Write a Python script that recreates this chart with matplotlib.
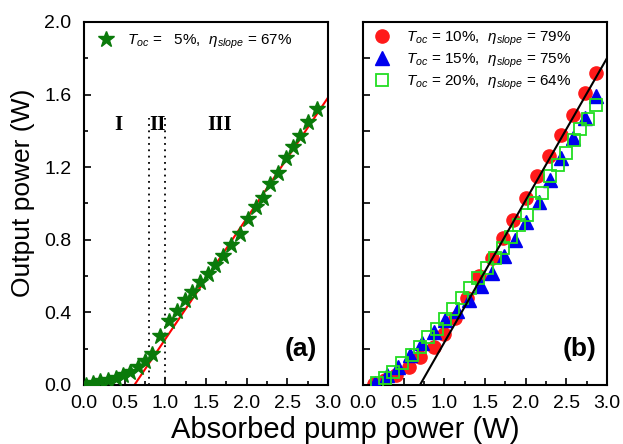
import matplotlib
matplotlib.use('Agg')
import matplotlib.pyplot as plt
import numpy as np
from matplotlib.ticker import MultipleLocator

plt.rcParams['font.family'] = ['Liberation Sans', 'DejaVu Sans']
plt.rcParams['mathtext.fontset'] = 'custom'
plt.rcParams['mathtext.rm'] = 'Liberation Sans'
plt.rcParams['mathtext.it'] = 'Liberation Sans:italic'

# panel (a): Toc = 5%
pump_a = [0.02, 0.11, 0.2, 0.3, 0.39, 0.48, 0.57, 0.66, 0.75, 0.84, 0.94, 1.04, 1.14, 1.24, 1.33, 1.43,
          1.52, 1.61, 1.71, 1.81, 1.92, 2.02, 2.12, 2.2, 2.29, 2.39, 2.48, 2.57, 2.66, 2.75, 2.86]
out_a = [0.0, 0.01, 0.02, 0.03, 0.04, 0.055, 0.07, 0.10, 0.13, 0.17, 0.27, 0.35, 0.41, 0.47, 0.51, 0.57,
         0.61, 0.66, 0.71, 0.77, 0.83, 0.915, 0.98, 1.03, 1.11, 1.17, 1.25, 1.31, 1.37, 1.45, 1.52]
fit_a_x = [0.62, 3.1]
fit_a_y = [0.0, 1.65]
region_lines = [0.8, 1.0]

# panel (b)
pump_10 = [0.13, 0.27, 0.41, 0.56, 0.70, 0.87, 1.0, 1.13, 1.28, 1.43, 1.58, 1.72, 1.85, 2.01, 2.14,
           2.29, 2.44, 2.58, 2.73, 2.86]
out_10 = [0.005, 0.03, 0.055, 0.10, 0.155, 0.21, 0.28, 0.37, 0.48, 0.60, 0.70, 0.81, 0.91, 1.03, 1.15,
          1.26, 1.38, 1.49, 1.61, 1.72]
pump_15 = [0.15, 0.29, 0.43, 0.58, 0.72, 0.87, 1.01, 1.15, 1.30, 1.45, 1.58, 1.73, 1.87, 2.01, 2.16,
           2.30, 2.44, 2.58, 2.73, 2.87]
out_15 = [0.013, 0.055, 0.10, 0.165, 0.23, 0.29, 0.36, 0.41, 0.47, 0.545, 0.615, 0.71, 0.80, 0.90, 1.01,
          1.13, 1.25, 1.36, 1.47, 1.59]
pump_20 = [0.17, 0.27, 0.37, 0.48, 0.60, 0.70, 0.80, 0.91, 1.01, 1.11, 1.22, 1.32, 1.42, 1.52, 1.62,
           1.72, 1.82, 1.92, 2.02, 2.10, 2.20, 2.30, 2.40, 2.50, 2.59, 2.67, 2.77, 2.86]
out_20 = [0.01, 0.037, 0.073, 0.12, 0.165, 0.21, 0.265, 0.31, 0.365, 0.42, 0.48, 0.535, 0.59, 0.645, 0.70,
          0.755, 0.815, 0.88, 0.935, 1.0, 1.06, 1.15, 1.21, 1.28, 1.35, 1.41, 1.465, 1.54]
fit_b_x = [0.70, 3.05]
fit_b_y = [0.0, 1.84]

fig = plt.figure(figsize=(6.23, 4.44), dpi=100)
ax1 = fig.add_axes([0.1348, 0.1329, 0.3917, 0.8176])
ax2 = fig.add_axes([0.5827, 0.1329, 0.3916, 0.8176])

green = '#0a7a0a'
ax1.plot(fit_a_x, fit_a_y, color='red', lw=1.5, zorder=2)
ax1.plot(pump_a, out_a, linestyle='none', marker='*', markersize=12, color=green,
         markeredgecolor=green, zorder=3, label=r'$T_{oc}$ =   5%,  $\eta_{slope}$ = 67%')
for xv in region_lines:
    ax1.plot([xv, xv], [0, 1.47], color='black', linestyle=(0, (1, 2.5)), lw=1.3, zorder=1)
for lab, xv in zip(['I', 'II', 'III'], [0.42, 0.9, 1.67]):
    ax1.text(xv, 1.43, lab, family='Liberation Serif', weight='bold', fontsize=15, ha='center', va='center')
ax1.text(0.955, 0.065, '(a)', transform=ax1.transAxes, weight='bold', fontsize=19, ha='right', va='bottom')
ax1.legend(loc='upper left', frameon=False, fontsize=11, handletextpad=0.6, borderaxespad=0.3,
           handlelength=1.5)

ax2.plot(fit_b_x, fit_b_y, color='black', lw=1.5, zorder=4)
ax2.plot(pump_10, out_10, linestyle='none', marker='o', markersize=9.5, color='#ff1a1a',
         label=r'$T_{oc}$ = 10%,  $\eta_{slope}$ = 79%', zorder=2)
ax2.plot(pump_15, out_15, linestyle='none', marker='^', markersize=9.5, color='#0000ee',
         markerfacecolor='#0000ee', label=r'$T_{oc}$ = 15%,  $\eta_{slope}$ = 75%', zorder=3)
ax2.plot(pump_20, out_20, linestyle='none', marker='s', markersize=8.5, color='#22dd22',
         markerfacecolor='none', markeredgewidth=1.3, label=r'$T_{oc}$ = 20%,  $\eta_{slope}$ = 64%', zorder=3)
ax2.text(0.955, 0.065, '(b)', transform=ax2.transAxes, weight='bold', fontsize=19, ha='right', va='bottom')
ax2.legend(loc='upper left', frameon=False, fontsize=11, handletextpad=0.8, borderaxespad=0.1,
           handlelength=1.5, labelspacing=0.25)

for ax in (ax1, ax2):
    ax.set_xlim(0, 3.0)
    ax.set_ylim(0, 2.0)
    ax.xaxis.set_major_locator(MultipleLocator(0.5))
    ax.xaxis.set_minor_locator(MultipleLocator(0.25))
    ax.yaxis.set_major_locator(MultipleLocator(0.4))
    ax.yaxis.set_minor_locator(MultipleLocator(0.2))
    ax.tick_params(which='both', direction='in', top=False, right=False, labelsize=14, width=1.2)
    ax.tick_params(which='major', length=5)
    ax.tick_params(which='minor', length=3)
    ax.tick_params(axis='x', pad=7)
    ax.tick_params(axis='y', pad=9)
    for sp in ax.spines.values():
        sp.set_linewidth(1.5)

ax2.tick_params(axis='y', which='both', labelleft=False)
ax2.yaxis.set_major_locator(MultipleLocator(0.2))

ax1.set_ylabel('Output power (W)', fontsize=19)
ax1.yaxis.set_label_coords(-0.2, 0.53)
fig.text(0.554, 0.0, 'Absorbed pump power (W)', fontsize=21, ha='center', va='bottom')

fig.savefig('out.png', dpi=100)
